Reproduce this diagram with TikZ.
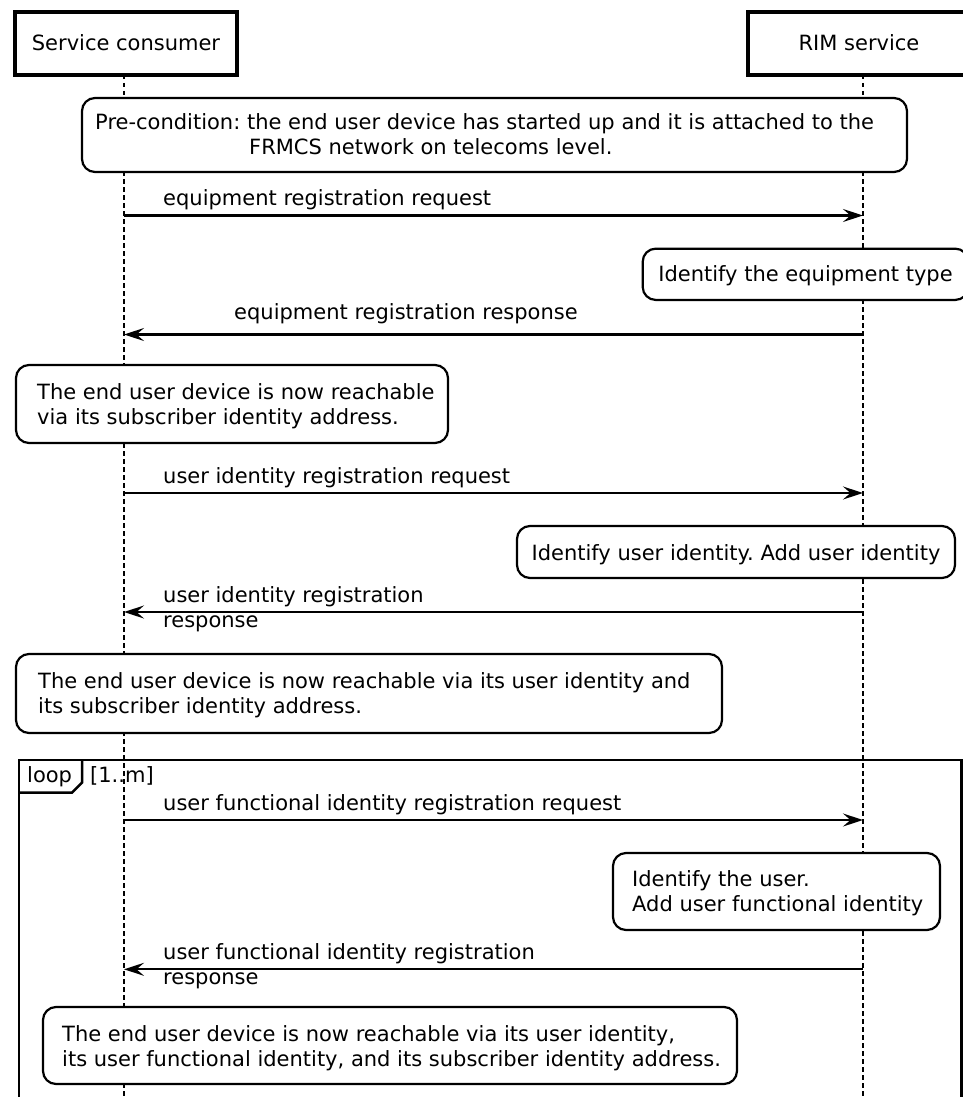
\documentclass[tikz,border=0pt]{standalone}
\usepackage{fontspec}
\setmainfont{DejaVu Sans}
\frenchspacing
\usetikzlibrary{arrows.meta}
% left-aligned block of lines, first baseline on the node's base
\newcommand{\txtlines}[1]{\begin{tabular}[t]{@{}l@{}}#1\end{tabular}}
\tikzset{
  actor/.style={draw, line width=3.5pt, minimum height=63pt, text height=15pt,
    text depth=0pt, inner sep=0pt},
  lifeline/.style={line width=2.6pt, dash pattern=on 4.5pt off 3.5pt},
  notebox/.style={draw, fill=white, line width=2.2pt, rounded corners=13pt, inner sep=0pt},
  txt/.style={inner sep=0pt, anchor=base west},
  ctxt/.style={inner sep=0pt, anchor=base},
  msg/.style={line width=2.2pt, -{Stealth[length=20pt,width=13pt,inset=7.5pt]}},
  framestyle/.style={line width=2.5pt},
}
\begin{document}
\begin{tikzpicture}[x=1pt, y=-1pt, font=\fontsize{21pt}{24.5pt}\selectfont]
\useasboundingbox (0,0) rectangle (963,1097);
\fill[white] (0,0) rectangle (963,1097);

% participants
\node[actor, minimum width=222pt] (sc) at (126,43.5) {Service consumer};
\node[actor, minimum width=222pt] (rim) at (859,43.5) {RIM service};

% lifelines
\coordinate (scTop) at (124,75);
\coordinate (scBot) at (124,1100);
\coordinate (rimTop) at (863,75);
\coordinate (rimBot) at (863,1100);
\draw[lifeline] (scTop) -- (scBot);
\draw[lifeline] (rimTop) -- (rimBot);

% pre-condition
\node[notebox, minimum width=825pt, minimum height=74pt] (n1) at (494.5,135) {};
\node[txt] (n1t) at (95,130) {\txtlines{Pre-condition: the end user device has started up and it is attached to the\\
\hspace*{154pt}FRMCS network on telecoms level.}};

% equipment registration
\coordinate (m1s) at (124,215.5);
\coordinate (m1e) at (863,215.5);
\draw[msg] (m1s) -- (m1e);
\node[txt] (m1t) at (163,205.5) {equipment registration request};

\node[notebox, minimum width=325.6pt, minimum height=51.3pt] (n2) at (805.5,274.3) {};
\node[ctxt] (n2t) at (805.5,281) {Identify the equipment type};

\coordinate (m2s) at (863,334.5);
\coordinate (m2e) at (124,334.5);
\draw[msg] (m2s) -- (m2e);
\node[txt] (m2t) at (234,319.5) {equipment registration response};

\node[notebox, minimum width=432pt, minimum height=78pt] (n3) at (232,404) {};
\node[txt] (n3t) at (37,399.5) {\txtlines{The end user device is now reachable\\via its subscriber identity address.}};

% user identity registration
\coordinate (m3s) at (124,493);
\coordinate (m3e) at (863,493);
\draw[msg] (m3s) -- (m3e);
\node[txt] (m3t) at (163,483.5) {user identity registration request};

\node[notebox, minimum width=438pt, minimum height=52pt] (n4) at (736,552) {};
\node[ctxt] (n4t) at (736,560) {Identify user identity. Add user identity};

\coordinate (m4s) at (863,612);
\coordinate (m4e) at (124,612);
\draw[msg] (m4s) -- (m4e);
\node[txt] (m4t) at (163,602) {\txtlines{user identity registration\\[1pt]response}};

\node[notebox, minimum width=706pt, minimum height=79pt] (n5) at (369,693.5) {};
\node[txt] (n5t) at (38,688.5) {\txtlines{The end user device is now reachable via its user identity and\\its subscriber identity address.}};

% loop fragment
\draw[framestyle] (19,1110) -- (19,760) -- (961.5,760) -- (961.5,1110);
\draw[framestyle] (19,792.7) -- (72,792.7) -- (82,782.5) -- (82,760);
\node[txt] (lp) at (27,782.7) {loop};
\node[txt] (lpg) at (90,782.7) {[1..m]};

\coordinate (m5s) at (124,820);
\coordinate (m5e) at (863,820);
\draw[msg] (m5s) -- (m5e);
\node[txt] (m5t) at (163,810.5) {user functional identity registration request};

\node[notebox, minimum width=327pt, minimum height=77pt] (n6) at (776.5,891.5) {};
\node[txt] (n6t) at (632,886.5) {\txtlines{Identify the user.\\Add user functional identity}};

\coordinate (m6s) at (863,969.3);
\coordinate (m6e) at (124,969.3);
\draw[msg] (m6s) -- (m6e);
\node[txt] (m6t) at (163,959.3) {\txtlines{user functional identity registration\\[1pt]response}};

\node[notebox, minimum width=694pt, minimum height=77pt] (n7) at (390,1045.5) {};
\node[txt] (n7t) at (62,1041.5) {\txtlines{The end user device is now reachable via its user identity,\\its user functional identity, and its subscriber identity address.}};
\end{tikzpicture}
\end{document}
